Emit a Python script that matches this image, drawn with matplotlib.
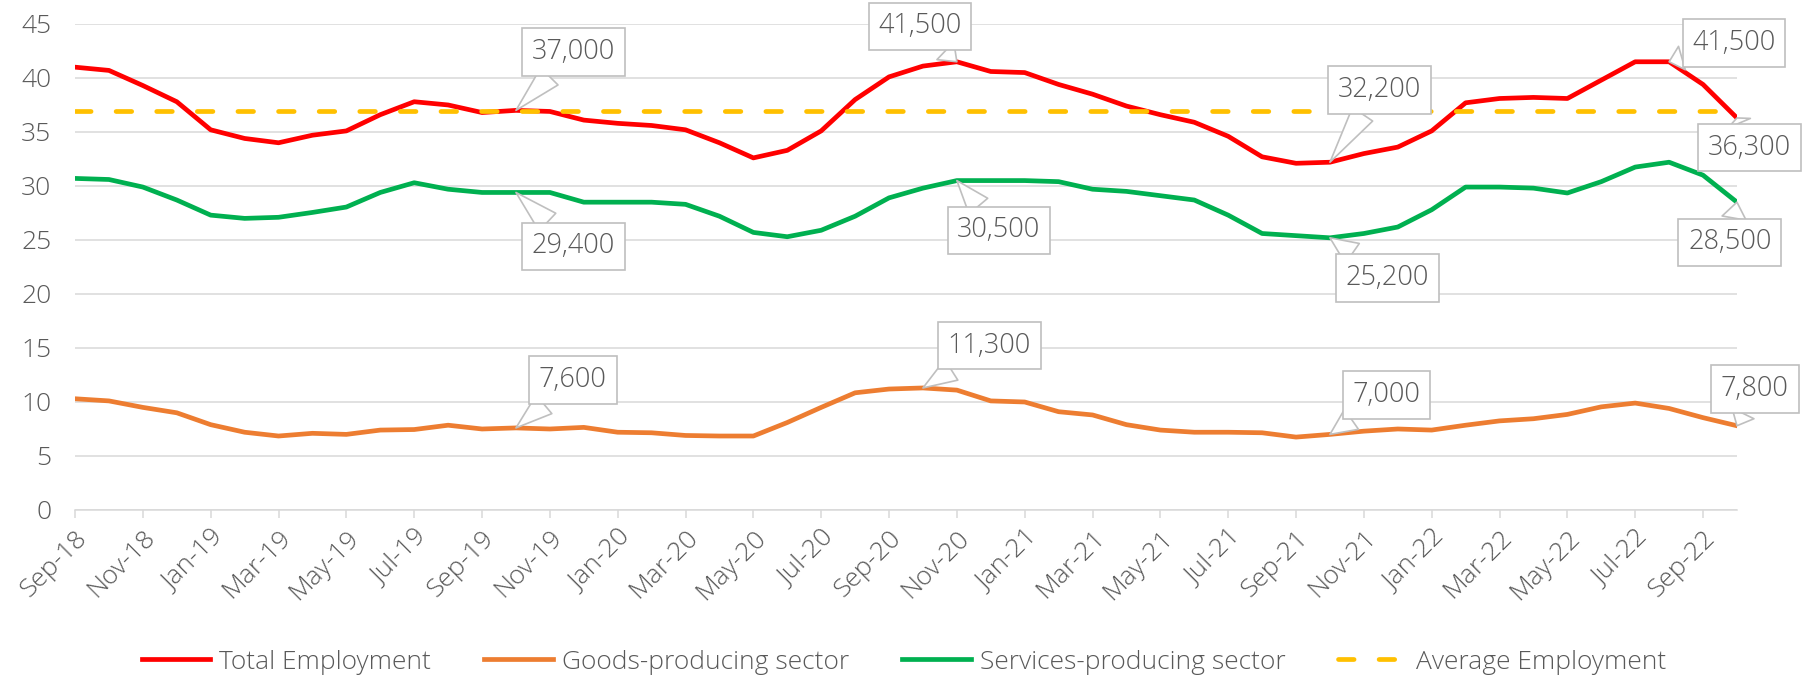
import matplotlib.pyplot as plt
import numpy as np

plt.rcParams['font.family'] = ['Open Sans', 'DejaVu Sans']
plt.rcParams['font.weight'] = 'light'

# monthly categories Sep-18 .. Oct-22
months = [
    "Sep-18", "Oct-18", "Nov-18", "Dec-18", "Jan-19", "Feb-19", "Mar-19", "Apr-19",
    "May-19", "Jun-19", "Jul-19", "Aug-19", "Sep-19", "Oct-19", "Nov-19", "Dec-19",
    "Jan-20", "Feb-20", "Mar-20", "Apr-20", "May-20", "Jun-20", "Jul-20", "Aug-20",
    "Sep-20", "Oct-20", "Nov-20", "Dec-20", "Jan-21", "Feb-21", "Mar-21", "Apr-21",
    "May-21", "Jun-21", "Jul-21", "Aug-21", "Sep-21", "Oct-21", "Nov-21", "Dec-21",
    "Jan-22", "Feb-22", "Mar-22", "Apr-22", "May-22", "Jun-22", "Jul-22", "Aug-22",
    "Sep-22", "Oct-22",
]

# thousands of jobs
total = [
    41.0, 40.7, 39.3, 37.8, 35.2, 34.4, 34.0, 34.7, 35.1, 36.6,
    37.8, 37.5, 36.8, 37.0, 36.9, 36.1, 35.8, 35.6, 35.2, 34.0,
    32.6, 33.3, 35.1, 38.0, 40.1, 41.1, 41.5, 40.6, 40.5, 39.4,
    38.5, 37.4, 36.6, 35.9, 34.6, 32.7, 32.1, 32.2, 33.0, 33.6,
    35.1, 37.7, 38.1, 38.2, 38.1, 39.8, 41.5, 41.5, 39.4, 36.3,
]
goods = [
    10.3, 10.1, 9.5, 9.0, 7.9, 7.2, 6.85, 7.1, 7.0, 7.4,
    7.45, 7.85, 7.5, 7.6, 7.5, 7.65, 7.2, 7.15, 6.9, 6.85,
    6.85, 8.1, 9.5, 10.85, 11.2, 11.3, 11.1, 10.1, 10.0, 9.1,
    8.8, 7.9, 7.4, 7.2, 7.2, 7.15, 6.75, 7.0, 7.3, 7.5,
    7.4, 7.85, 8.25, 8.45, 8.85, 9.55, 9.9, 9.4, 8.55, 7.8,
]
services = [
    30.7, 30.6, 29.9, 28.7, 27.3, 27.0, 27.1, 27.55, 28.05, 29.4,
    30.3, 29.7, 29.4, 29.4, 29.4, 28.5, 28.5, 28.5, 28.3, 27.2,
    25.7, 25.3, 25.9, 27.2, 28.9, 29.8, 30.5, 30.5, 30.5, 30.4,
    29.7, 29.5, 29.1, 28.7, 27.3, 25.6, 25.4, 25.2, 25.6, 26.2,
    27.8, 29.9, 29.9, 29.8, 29.35, 30.4, 31.75, 32.2, 31.0, 28.5,
]
average_employment = 36.9

x = np.arange(len(months))

fig = plt.figure(figsize=(18.08, 6.79), dpi=100)
ax = fig.add_axes([0.0415, 0.2489, 0.9192, 0.7158])

lw = 3.4
ax.plot(x, total, color="#FF0000", lw=lw, label="Total Employment", solid_joinstyle="round")
ax.plot(x, goods, color="#ED7D31", lw=lw, label="Goods-producing sector", solid_joinstyle="round")
ax.plot(x, services, color="#00B050", lw=lw, label="Services-producing sector", solid_joinstyle="round")
ax.plot(x, np.full(len(x), average_employment), color="#FFC000", lw=lw,
        dashes=(3.3, 5.3), dash_capstyle="round", label="Average Employment")

ax.set_xlim(0, len(x) - 1)
ax.set_ylim(0, 45)
ax.set_yticks(range(0, 46, 5))
ax.set_xticks(x[::2])
ax.set_xticklabels(months[::2], rotation=45, ha="right", va="top", rotation_mode="anchor")

ax.grid(axis="y", color="#D9D9D9", lw=1.1)
ax.set_axisbelow(True)
for s in ["top", "right", "left"]:
    ax.spines[s].set_visible(False)
ax.spines["bottom"].set_color("#D9D9D9")
ax.spines["bottom"].set_linewidth(1.1)
ax.tick_params(axis="y", length=0, pad=17, labelsize=19, labelcolor="#595959")
ax.tick_params(axis="x", length=6, width=1.1, color="#D9D9D9", pad=5,
               labelsize=19, labelcolor="#595959")

# data callouts: (series, index, box centre in data coords)
callouts = [
    (total, 13, (14.69, 42.4)),
    (services, 13, (14.69, 24.4)),
    (total, 26, (24.91, 44.77)),
    (services, 26, (27.24, 25.88)),
    (total, 37, (38.45, 38.9)),
    (services, 37, (38.69, 21.5)),
    (total, 47, (48.91, 43.24)),
    (total, 49, (49.37, 33.56)),
    (services, 49, (48.79, 24.77)),
    (goods, 13, (14.68, 12.04)),
    (goods, 25, (26.96, 15.23)),
    (goods, 37, (38.66, 10.65)),
    (goods, 49, (49.53, 11.2)),
]
for series, i, (bx, by) in callouts:
    ax.annotate(f"{series[i] * 1000:,.0f}", xy=(i, series[i]), xytext=(bx, by),
                ha="center", va="center", fontsize=19.5, color="#595959",
                bbox=dict(boxstyle="square,pad=0.36", fc="white", ec="#BFBFBF", lw=1.2),
                arrowprops=dict(arrowstyle="wedge,tail_width=0.9,shrink_factor=0.5",
                                fc="white", ec="#BFBFBF", lw=1.2, shrinkA=0, shrinkB=0),
                annotation_clip=False, zorder=5)

handles, labels = ax.get_legend_handles_labels()
fig.legend(handles, labels, loc="center", bbox_to_anchor=(0.5, 0.025), ncol=4,
           frameon=False, fontsize=19, handlelength=2.6, handletextpad=0.35,
           columnspacing=2.0, labelcolor="#595959")

fig.savefig("out.png", dpi=100)
